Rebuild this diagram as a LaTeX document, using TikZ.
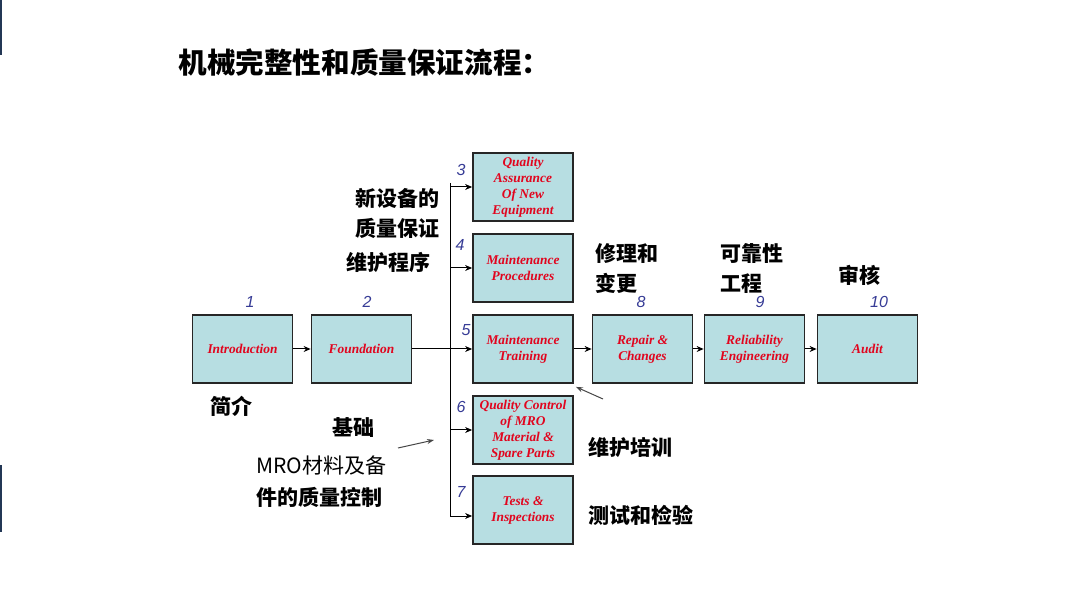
\documentclass[tikz,border=0pt]{standalone}
\usepackage{fontspec}
\usepackage{xcolor}
\usetikzlibrary{calc,positioning,arrows.meta}
\setmainfont{Liberation Serif}
\newfontfamily\cjk{Noto Sans CJK SC}
\newfontfamily\numfont{Liberation Sans}
\definecolor{boxfill}{RGB}{183,222,226}
\definecolor{red1}{RGB}{225,5,30}
\definecolor{blue1}{RGB}{55,60,150}
\definecolor{navy1}{RGB}{35,55,85}
\definecolor{gray1}{RGB}{70,70,70}

\begin{document}
\begin{tikzpicture}[x=0.5pt,y=-0.5pt,
  box/.style={draw=black!85, line width=0.9pt, fill=boxfill, minimum width=50pt,
    minimum height=34pt, inner sep=0pt, align=center,
    font=\fontsize{6.7}{8}\selectfont\bfseries\itshape, text=red1},
  num/.style={font=\numfont\fontsize{8}{9}\selectfont\itshape, text=blue1, inner sep=0pt},
  lbl/.style={font=\cjk\fontsize{10.5}{15}\selectfont\bfseries, anchor=west, align=left, inner sep=0pt},
  arr/.style={line width=0.5pt, -{Stealth[length=3.5pt,width=3pt]}},
  grayarr/.style={gray1, line width=0.5pt, -{Stealth[length=3.5pt,width=2.5pt]}}]

\useasboundingbox (0,0) rectangle (1080,608);
\fill[white] (0,0) rectangle (1080,608);
\fill[navy1] (0,0) rectangle (2,55);
\fill[navy1] (0,465) rectangle (2,532);

% title
\node[lbl, font=\cjk\fontsize{14.3}{16}\selectfont\bfseries] (title) at (178,63) {机械完整性和质量保证流程：};

% ----- main row (y=349) -----
\node[box] (intro) at (242.5,349) {Introduction};
\node[box] (found) at (361.5,349) {Foundation};
\node[box] (train) at (523,349) {Maintenance\\Training};
\node[box] (repair) at (642.5,349) {Repair \&\\Changes};
\node[box] (relia) at (754.5,349) {Reliability\\Engineering};
\node[box] (audit) at (867.5,349) {Audit};

% ----- column of boxes -----
\node[box] (qanew) at (523,187) {Quality\\Assurance\\Of New\\Equipment};
\node[box] (proc) at (523,268) {Maintenance\\Procedures};
\node[box] (qcmro) at (523,430) {Quality Control\\of MRO\\Material \&\\Spare Parts};
\node[box] (tests) at (523,510) {Tests \&\\Inspections};

% numbers
\node[num] (n1) at (250,302) {1};
\node[num] (n2) at (367,302) {2};
\node[num] (n3) at (461,170) {3};
\node[num] (n4) at (460,245) {4};
\node[num] (n5) at (466,330) {5};
\node[num] (n6) at (461,407) {6};
\node[num] (n7) at (461,492) {7};
\node[num] (n8) at (641,302) {8};
\node[num] (n9) at (760,302) {9};
\node[num] (n10) at (879,302) {10};

% connectors
\coordinate (bustop) at (450,183);
\coordinate (busbot) at (450,516);
\draw[line width=0.5pt] (bustop) -- (busbot);
\draw[arr] (intro) -- (found);
\draw[arr] (found) -- (train);
\foreach \b in {qanew,proc,qcmro}
  \draw[arr] (bustop |- \b.west) -- (\b.west);
\draw[arr] (busbot) -- (busbot -| tests.west);
\draw[arr] (train) -- (repair);
\draw[arr] (repair) -- (relia);
\draw[arr] (relia) -- (audit);

% gray pointers
\coordinate (trtail) at (603,399);
\draw[grayarr] (trtail) -- ([shift={(2,3)}]train.south east);
\coordinate (mrotail) at (398,448);
\coordinate (mrohead) at (434,440);
\draw[grayarr] (mrotail) -- (mrohead);

% chinese labels
\node[lbl] (l3) at (355,213) {新设备的\\质量保证};
\node[lbl] (l4) at (346,262) {维护程序};
\node[lbl] (l8) at (595,269) {修理和\\变更};
\node[lbl] (l9) at (720,269) {可靠性\\工程};
\node[lbl] (l10) at (838,275) {审核};
\node[lbl] (l1) at (210,406) {简介};
\node[lbl] (l2) at (332,428) {基础};
\node[lbl, font=\cjk\fontsize{10.5}{15}\selectfont] (l6a) at (256,465) {MRO材料及备};
\node[lbl] (l6b) at (256,497) {件的质量控制};
\node[lbl] (l5) at (588,447) {维护培训};
\node[lbl] (l7) at (588,515) {测试和检验};

\end{tikzpicture}
\end{document}
